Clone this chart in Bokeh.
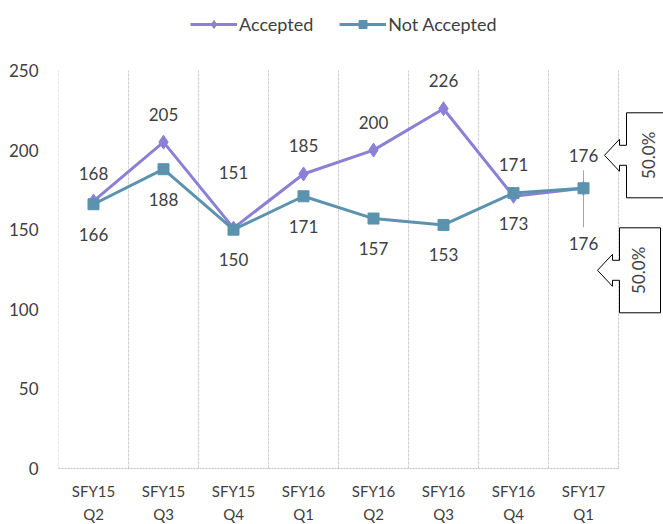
import math
from bokeh.plotting import figure
from bokeh.models import (Range1d, FixedTicker, Legend, LegendItem)
from bokeh.core.properties import value
from bokeh.embed import file_html
from bokeh.resources import INLINE

# ---- data ----
quarters = ["SFY15\nQ2", "SFY15\nQ3", "SFY15\nQ4", "SFY16\nQ1",
            "SFY16\nQ2", "SFY16\nQ3", "SFY16\nQ4", "SFY17\nQ1"]
accepted = [168, 205, 151, 185, 200, 226, 171, 176]
not_accepted = [166, 188, 150, 171, 157, 153, 173, 176]
y_ticks = [0, 50, 100, 150, 200, 250]
callout_text = "50.0%"

# ---- styling / layout ----
PURPLE = "#8A80D6"
TEAL = "#5B93AE"
TXT = "#404040"
GRID = "#CFCFCF"
FONT = "Lato"
W, H = 663, 524
B_LEFT = 58
PLOT_TOP, PLOT_BOTTOM = 70, 468      # pixel rows of value 250 and value 0
frame_w = W - B_LEFT
SLOT = 70.0
x_start = -0.5
x_end = x_start + frame_w / SLOT
YMAX = y_ticks[-1]
PPU = (PLOT_BOTTOM - PLOT_TOP) / YMAX
y_start = -(H - PLOT_BOTTOM) / PPU
y_end = YMAX + PLOT_TOP / PPU

# label pixel offsets (screen px, positive = down)
acc_dy = [-28, -28, -56, -28, -28, -28, -32, -33]
na_dy = [30, 30, 30, 30, 30, 30, 30, 55]

n = len(quarters)
xs = list(range(n))

p = figure(width=W, height=H, x_range=Range1d(x_start, x_end), y_range=Range1d(y_start, y_end),
           output_backend="svg", toolbar_location=None,
           min_border_left=B_LEFT, min_border_right=0, min_border_top=0,
           min_border_bottom=0)
p.outline_line_color = None
p.background_fill_color = "white"
p.border_fill_color = "white"
p.xaxis.visible = False
p.xgrid.grid_line_color = None
p.ygrid.grid_line_color = None

# y axis
p.yaxis.ticker = FixedTicker(ticks=y_ticks)
p.yaxis.axis_line_color = None
p.yaxis.major_tick_line_color = None
p.yaxis.minor_tick_line_color = None
p.yaxis.major_label_standoff = 14
p.yaxis.major_label_text_font = FONT
p.yaxis.major_label_text_font_size = "17px"
p.yaxis.major_label_text_color = TXT

# vertical category gridlines and baseline
bounds = [i - 0.5 for i in range(n + 1)]
p.segment(x0=bounds, y0=[0] * len(bounds), x1=bounds, y1=[YMAX] * len(bounds),
          line_color=GRID, line_width=1, line_dash="3 1")
p.segment(x0=[bounds[0]], y0=[0], x1=[bounds[-1]], y1=[0],
          line_color="#BFBFBF", line_width=1, line_dash="2 1")

# category labels under the baseline
p.text(xs, [0] * n, text=quarters, y_offset=13, text_align="center", text_baseline="top",
       text_font=value(FONT), text_font_size="15px", text_color=TXT, text_line_height=1.3)

# leader line for last labels
last = n - 1
p.segment(x0=[last], y0=[not_accepted[last] + 18 / PPU], x1=[last],
          y1=[not_accepted[last] - 39 / PPU], line_color="#A6A6A6", line_width=1)

# series
l1 = p.line(xs, accepted, line_color=PURPLE, line_width=3)
s1 = p.scatter(xs, accepted, marker="diamond", size=14, color=PURPLE)
l2 = p.line(xs, not_accepted, line_color=TEAL, line_width=3)
s2 = p.scatter(xs, not_accepted, marker="square", size=11, color=TEAL)

# data labels
p.text(xs, accepted, text=[str(v) for v in accepted], y_offset=acc_dy,
       text_align="center", text_baseline="middle", text_font=value(FONT),
       text_font_size="17px", text_color=TXT)
p.text(xs, not_accepted, text=[str(v) for v in not_accepted], y_offset=na_dy,
       text_align="center", text_baseline="middle", text_font=value(FONT),
       text_font_size="17px", text_color=TXT)


# callouts (left-arrow shapes), anchored on the last point, pixel offsets
def callout(base_val, tip_dx, tip_dy, box_w, text_w):
    shape = [(0, 0), (15, -16), (15, -10), (22, -10), (22, -42.5), (22 + box_w, -42.5),
             (22 + box_w, 42.5), (22, 42.5), (22, 10), (15, 10), (15, 16)]
    px = [last + (tip_dx + dx) / SLOT for dx, dy in shape]
    py = [base_val - (tip_dy + dy) / PPU for dx, dy in shape]
    p.patch(px, py, fill_color="white", line_color="black", line_width=1)
    cx = last + (tip_dx + 22 + text_w / 2) / SLOT
    cy = base_val - tip_dy / PPU
    p.text([cx], [cy], text=[callout_text], angle=math.pi / 2, text_align="center",
           text_baseline="middle", text_font=value(FONT), text_font_size="17px",
           text_color=TXT)


callout(accepted[last], 21, -33, 45, 44)
callout(not_accepted[last], 14, 82, 41, 38)

# legend
legend = Legend(items=[LegendItem(label="Accepted", renderers=[l1, s1]),
                       LegendItem(label="Not Accepted", renderers=[l2, s2])],
                orientation="horizontal", location=(132, H - 35))
legend.label_text_font = FONT
legend.label_text_font_size = "18px"
legend.label_text_color = TXT
legend.glyph_width = 47
legend.glyph_height = 20
legend.label_height = 20
legend.label_standoff = 2
legend.spacing = 26
legend.padding = 0
legend.margin = 0
legend.border_line_color = None
legend.background_fill_alpha = 0
p.add_layout(legend, "center")

open("out.html", "w").write(file_html(p, INLINE))
